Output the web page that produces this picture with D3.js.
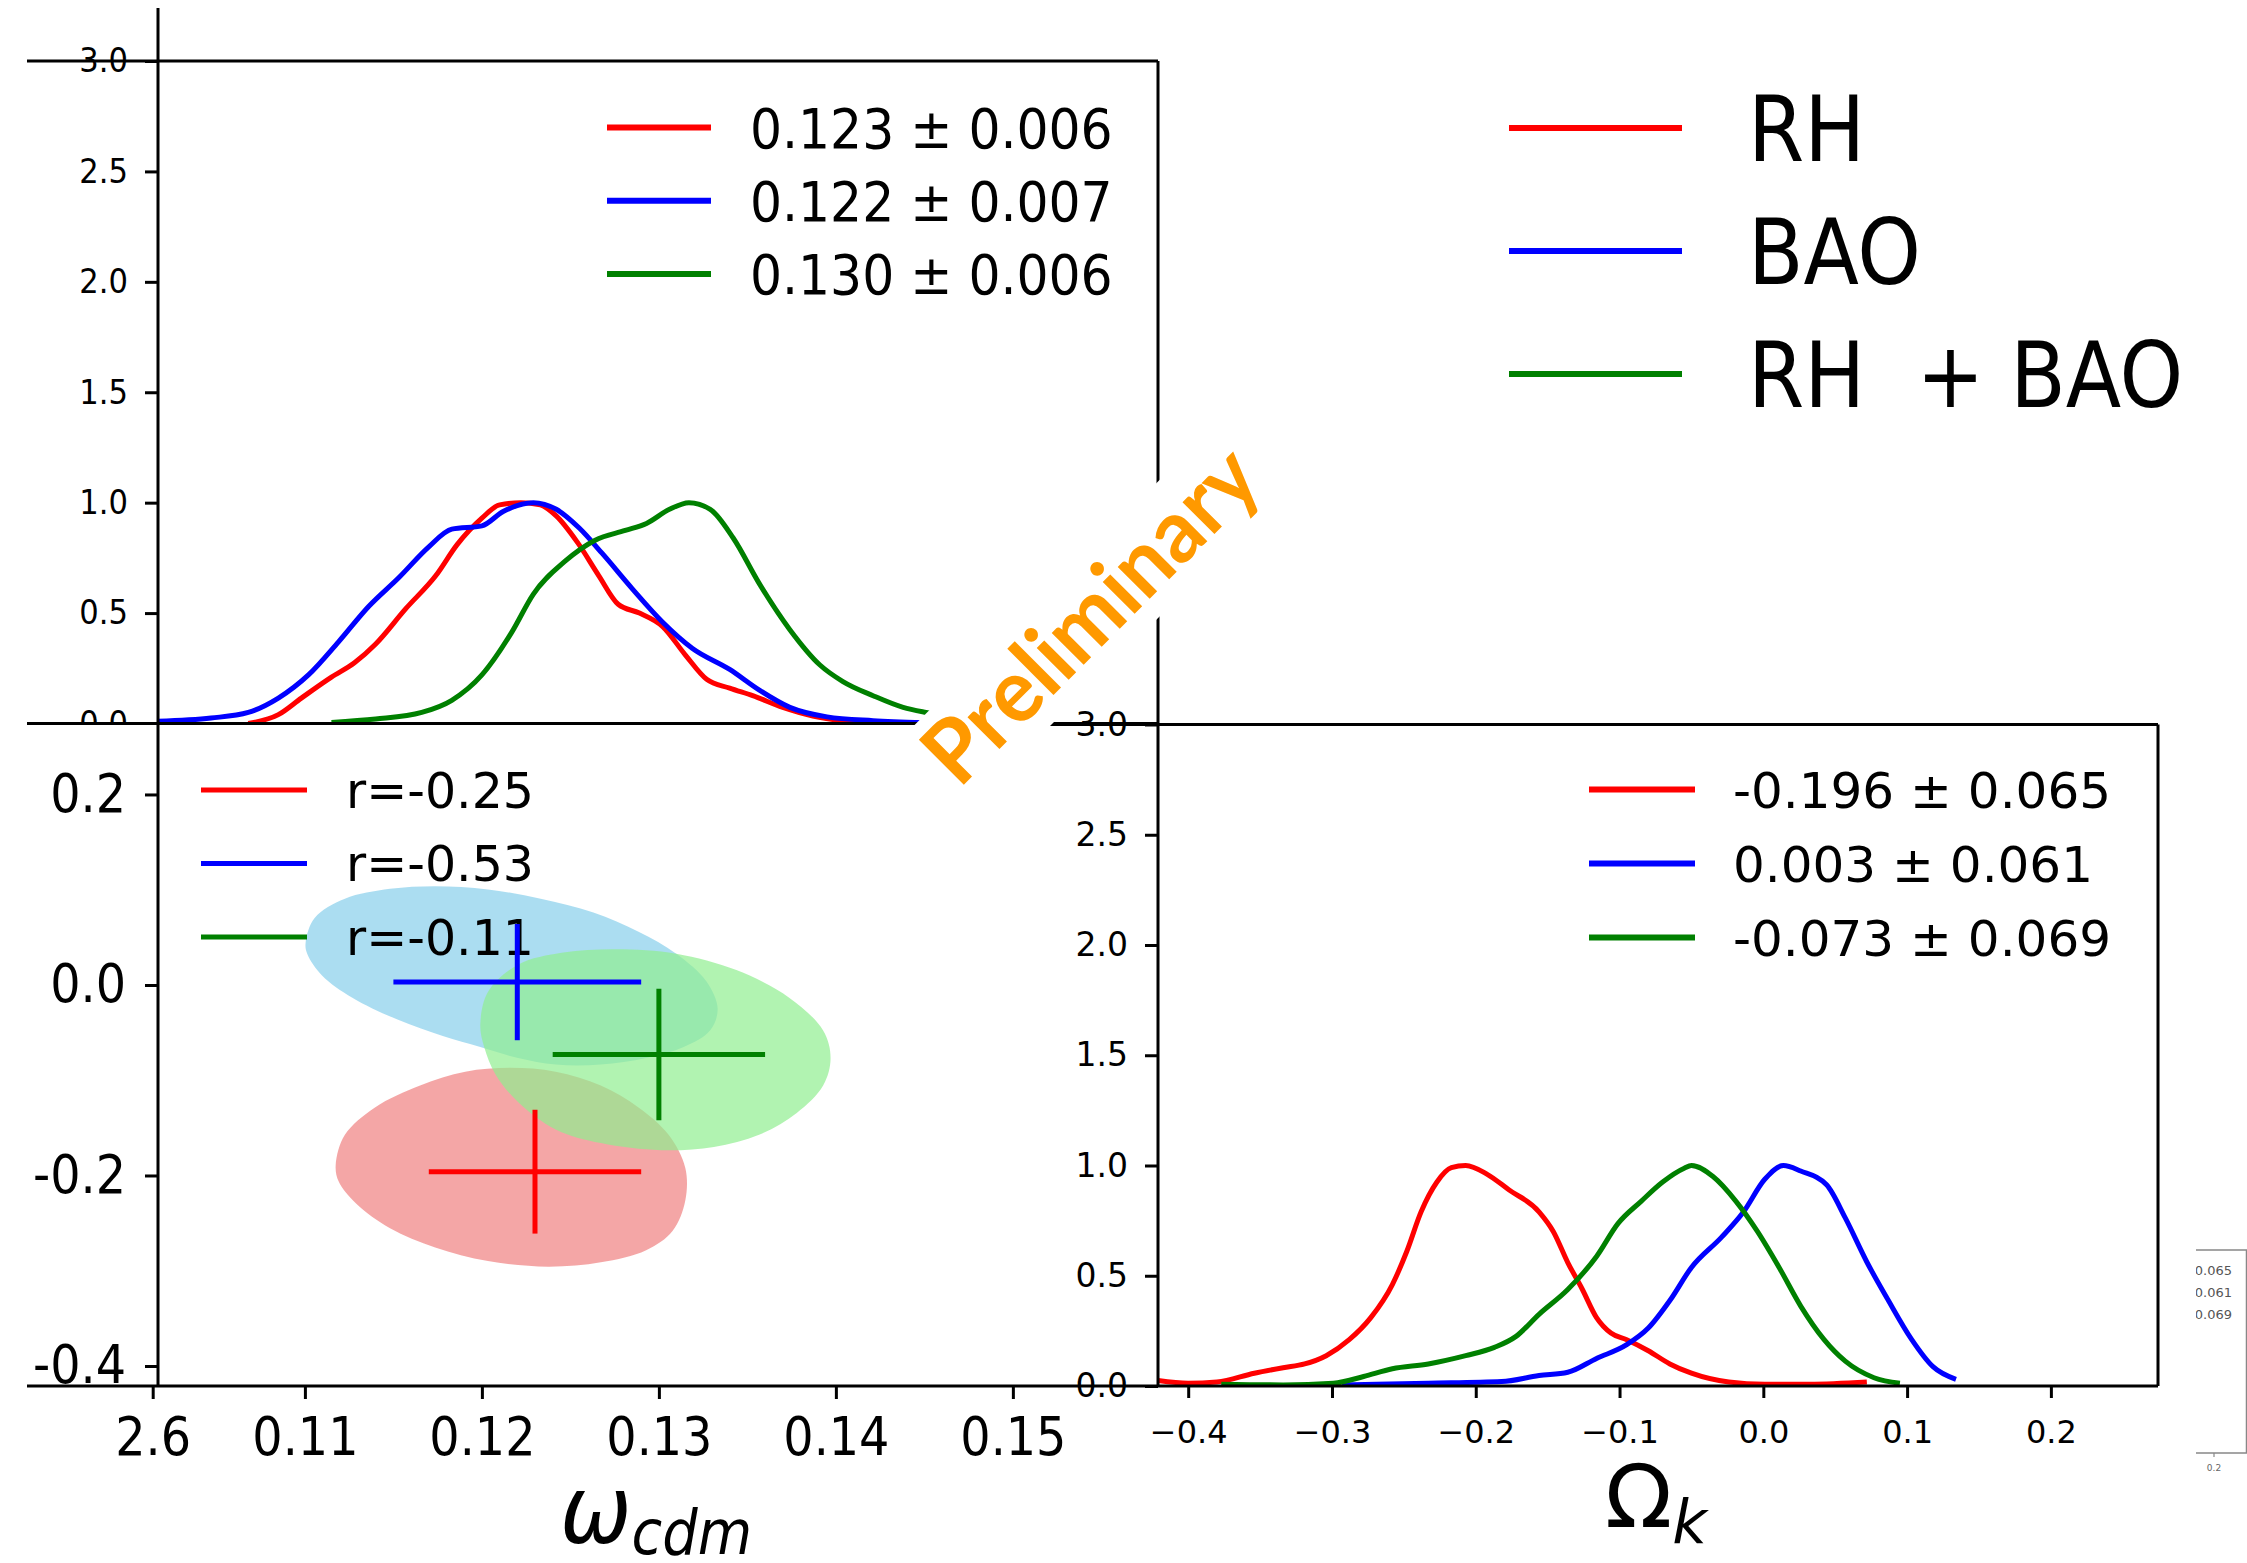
<!DOCTYPE html>
<html>
<head>
<meta charset="utf-8">
<script src="https://cdn.jsdelivr.net/npm/d3@7"></script>
<style>
  html, body { margin: 0; padding: 0; background: #fff; }
  svg { display: block; }
  text { white-space: pre; }
</style>
</head>
<body>
<svg id="fig" width="2247" height="1563"></svg>
<script>
// ---------------- data ----------------
const datasets   = ["RH", "BAO", "RH  + BAO"];
const lineColors = ["#ff0000", "#0000ff", "#008000"];
const fillColors = ["lightcoral", "skyblue", "lightgreen"];

// posterior summaries (mean, 1-sigma) and correlation coefficients
const wcdmMean  = [0.123, 0.122, 0.130];
const wcdmSigma = [0.006, 0.007, 0.006];
const okMean    = [-0.196, 0.003, -0.073];
const okSigma   = [0.065, 0.061, 0.069];
const corrCoef  = [-0.25, -0.53, -0.11];

// tick values / labels
const pdfTicks        = [3.0, 2.5, 2.0, 1.5, 1.0, 0.5, 0.0];
const wcdmTickValues  = [0.1014, 0.11, 0.12, 0.13, 0.14, 0.15];
const wcdmTickLabels  = ["2.6", "0.11", "0.12", "0.13", "0.14", "0.15"];
const okTicks2D       = [0.2, 0.0, -0.2, -0.4];
const okTicks1D       = [-0.4, -0.3, -0.2, -0.1, 0.0, 0.1, 0.2];

// marginal posterior of omega_cdm (peak normalised)
const wcdmPdfRH = [[0.1068,0.0],[0.1085,0.04],[0.1098,0.115],[0.1115,0.21],[0.1128,0.275],[0.1140,0.36],
  [0.1157,0.52],[0.1174,0.67],[0.1186,0.81],[0.1200,0.93],[0.1210,0.99],[0.1222,1.0],[0.1233,0.99],
  [0.1242,0.94],[0.1254,0.82],[0.1266,0.67],[0.1277,0.54],[0.1289,0.50],[0.1302,0.44],[0.1315,0.31],
  [0.1327,0.20],[0.1340,0.16],[0.1353,0.126],[0.1370,0.073],[0.1387,0.034],[0.1404,0.013],[0.1421,0.004],[0.1446,0.0]];
const wcdmPdfBAO = [[0.1017,0.01],[0.1047,0.025],[0.1068,0.05],[0.1085,0.115],[0.1102,0.22],[0.1119,0.37],
  [0.1136,0.53],[0.1153,0.66],[0.1170,0.80],[0.1183,0.88],[0.1200,0.895],[0.1212,0.96],[0.1229,1.0],
  [0.1242,0.97],[0.1255,0.885],[0.1268,0.77],[0.1285,0.61],[0.1302,0.46],[0.1319,0.34],[0.1340,0.245],
  [0.1357,0.15],[0.1374,0.073],[0.1395,0.03],[0.1421,0.013],[0.1449,0.004]];
const wcdmPdfJoint = [[0.1115,0.005],[0.1140,0.02],[0.1166,0.05],[0.1183,0.105],[0.1200,0.22],[0.1217,0.415],
  [0.1229,0.585],[0.1247,0.735],[0.1264,0.83],[0.1281,0.874],[0.1293,0.906],[0.1306,0.97],[0.1317,1.0],
  [0.1329,0.97],[0.1342,0.84],[0.1357,0.63],[0.1374,0.425],[0.1391,0.265],[0.1404,0.19],[0.1421,0.126],
  [0.1438,0.073],[0.1451,0.05],[0.1466,0.03],[0.1480,0.015]];

// marginal posterior of Omega_k (peak normalised)
const okPdfRH = [[-0.421,0.025],[-0.400,0.0125],[-0.380,0.018],[-0.354,0.058],[-0.334,0.083],[-0.319,0.10],
  [-0.304,0.1375],[-0.288,0.21],[-0.273,0.31],[-0.258,0.46],[-0.248,0.61],[-0.238,0.79],[-0.227,0.925],
  [-0.217,0.99],[-0.207,1.0],[-0.192,0.96],[-0.177,0.89],[-0.156,0.79],[-0.146,0.70],[-0.136,0.56],
  [-0.126,0.44],[-0.116,0.31],[-0.106,0.24],[-0.095,0.21],[-0.080,0.16],[-0.065,0.10],[-0.050,0.058],
  [-0.024,0.018],[0.001,0.008],[0.032,0.008],[0.072,0.018]];
const okPdfBAO = [[-0.293,0.005],[-0.233,0.0125],[-0.182,0.02],[-0.156,0.0475],[-0.136,0.0625],[-0.116,0.125],
  [-0.095,0.1875],[-0.080,0.2625],[-0.065,0.3875],[-0.050,0.5375],[-0.029,0.675],[-0.014,0.7875],
  [0.001,0.9375],[0.014,1.0],[0.026,0.975],[0.044,0.9125],[0.057,0.7625],[0.072,0.5625],[0.087,0.3875],
  [0.103,0.2125],[0.118,0.0875],[0.134,0.03]];
const okPdfJoint = [[-0.377,0.008],[-0.334,0.005],[-0.299,0.0125],[-0.278,0.043],[-0.258,0.078],[-0.233,0.10],
  [-0.207,0.1375],[-0.187,0.175],[-0.172,0.225],[-0.156,0.325],[-0.136,0.4375],[-0.116,0.5875],
  [-0.101,0.7375],[-0.085,0.8375],[-0.070,0.925],[-0.055,0.9875],[-0.050,1.0],[-0.035,0.95],[-0.019,0.8375],
  [-0.004,0.70],[0.011,0.5375],[0.026,0.3625],[0.042,0.2125],[0.057,0.1125],[0.077,0.0375],[0.095,0.0125]];

// 2D credible regions in (omega_cdm, Omega_k)
const contourRH = [[0.11174,-0.1890],[0.11226,-0.1573],[0.11396,-0.1285],[0.11651,-0.1055],[0.11906,-0.0911],
  [0.12162,-0.0870],[0.12417,-0.0911],[0.12672,-0.1055],[0.12885,-0.1285],[0.13055,-0.1573],[0.13149,-0.1919],
  [0.13149,-0.2265],[0.13077,-0.2582],[0.12928,-0.2784],[0.12672,-0.2911],[0.12374,-0.2957],[0.12034,-0.2899],
  [0.11736,-0.2755],[0.11481,-0.2553],[0.11289,-0.2294],[0.11191,-0.2063]];
const contourBAO = [[0.11004,0.0444],[0.11055,0.0703],[0.11226,0.0905],[0.11481,0.1009],[0.11736,0.1037],
  [0.12034,0.1003],[0.12332,0.0905],[0.12630,0.0761],[0.12885,0.0559],[0.13098,0.0329],[0.13268,0.0040],
  [0.13332,-0.0248],[0.13289,-0.0478],[0.13140,-0.0651],[0.12928,-0.0767],[0.12672,-0.0836],[0.12417,-0.0836],
  [0.12204,-0.0767],[0.11991,-0.0651],[0.11779,-0.0536],[0.11523,-0.0363],[0.11268,-0.0133],[0.11098,0.0098],
  [0.11013,0.0329]];
const contourJoint = [[0.11991,-0.0421],[0.12034,-0.0075],[0.12204,0.0213],[0.12460,0.0340],[0.12757,0.0375],
  [0.13098,0.0329],[0.13438,0.0156],[0.13736,-0.0133],[0.13928,-0.0478],[0.13970,-0.0767],[0.13928,-0.1055],
  [0.13779,-0.1343],[0.13566,-0.1573],[0.13311,-0.1700],[0.13013,-0.1735],[0.12672,-0.1660],[0.12417,-0.1516],
  [0.12204,-0.1228],[0.12077,-0.0939],[0.12013,-0.0651]];

const wcdmPdfs = [wcdmPdfRH, wcdmPdfBAO, wcdmPdfJoint];
const okPdfs   = [okPdfRH, okPdfBAO, okPdfJoint];
const contours = [contourRH, contourBAO, contourJoint];

// ---------------- layout ----------------
const svg = d3.select("#fig");
const SANS = "DejaVu Sans, Verdana, sans-serif";
const COND = "DejaVu Sans Condensed, DejaVu Sans, sans-serif";

const panelL = 158, panelM = 1158, panelR = 2158;
const topT = 61, midY = 723.5, botY = 1386;

const xW    = d3.scaleLinear().domain([0.1017, 0.1582]).range([panelL, panelM]);
const yTop  = d3.scaleLinear().domain([0, 3]).range([midY, topT]);
const yOk   = d3.scaleLinear().domain([-0.421, 0.2745]).range([botY, midY]);
const xOk   = d3.scaleLinear().domain([-0.421, 0.2745]).range([panelM, panelR]);
const yRgt  = d3.scaleLinear().domain([0, 3]).range([botY, 724.5]);

const fmt3 = v => v.toFixed(3);
const fmt2 = v => v.toFixed(2);
const fmt1 = v => v.toFixed(1);

svg.append("rect").attr("width", 2247).attr("height", 1563).attr("fill", "#fff");

const defs = svg.append("defs");
defs.append("clipPath").attr("id", "clipTL").append("rect")
  .attr("x", panelL).attr("y", topT).attr("width", panelM - panelL).attr("height", midY - topT);
defs.append("clipPath").attr("id", "clipBL").append("rect")
  .attr("x", panelL).attr("y", midY).attr("width", panelM - panelL).attr("height", botY - midY);
defs.append("clipPath").attr("id", "clipR").append("rect")
  .attr("x", panelM).attr("y", 724.5).attr("width", panelR - panelM).attr("height", botY - 724.5);
defs.append("clipPath").attr("id", "clipFrag").append("rect")
  .attr("x", 2196).attr("y", 1240).attr("width", 60).attr("height", 240);

function styleAxis(g, size, family) {
  g.select(".domain").remove();
  g.attr("font-size", size).attr("font-family", family);
  g.selectAll(".tick line").attr("stroke", "#000").attr("stroke-width", 3);
  g.selectAll(".tick text").attr("fill", "#000");
}

function legend(g, x0, x1, xt, y0, dy, labels, size, family, lw) {
  labels.forEach((lab, i) => {
    const y = y0 + i * dy;
    g.append("line").attr("x1", x0).attr("x2", x1).attr("y1", y).attr("y2", y)
      .attr("stroke", lineColors[i]).attr("stroke-width", lw);
    g.append("text").attr("x", xt).attr("y", y + 0.364 * size)
      .attr("font-size", size).attr("font-family", family).attr("fill", "#000").text(lab);
  });
}

// ---------------- top-left: omega_cdm marginal ----------------
const gTL = svg.append("g");
const lineTL = d3.line().x(d => xW(d[0])).y(d => yTop(d[1])).curve(d3.curveMonotoneX);
gTL.append("g").attr("clip-path", "url(#clipTL)").selectAll("path").data(wcdmPdfs).join("path")
  .attr("d", lineTL).attr("fill", "none")
  .attr("stroke", (d, i) => lineColors[i]).attr("stroke-width", 5);
gTL.append("g").attr("transform", `translate(${panelL},0)`)
  .call(d3.axisLeft(yTop).tickValues(pdfTicks).tickFormat(fmt1).tickSize(13).tickPadding(17))
  .call(g => styleAxis(g, 34, COND));
legend(gTL, 607, 711, 750, 127.5, 73.2,
  wcdmMean.map((m, i) => `${fmt3(m)} ± ${fmt3(wcdmSigma[i])}`), 56, COND, 6);

// ---------------- bottom-left: 2D omega_cdm vs Omega_k ----------------
const gBL = svg.append("g");
gBL.append("rect").attr("x", 0).attr("y", midY + 0.8).attr("width", panelM).attr("height", botY - midY)
  .attr("fill", "#fff");
const closed = d3.line().x(d => xW(d[0])).y(d => yOk(d[1])).curve(d3.curveCatmullRomClosed.alpha(0.5));
const fillOrder = [1, 0, 2];
gBL.append("g").attr("clip-path", "url(#clipBL)").selectAll("path").data(fillOrder).join("path")
  .attr("d", i => closed(contours[i])).attr("fill", i => fillColors[i]).attr("fill-opacity", 0.7);
legend(gBL, 201, 307, 346, 790, 73.5, corrCoef.map(r => `r=${fmt2(r)}`), 49, SANS, 5);
// mean +/- 1 sigma crosses
const crosses = gBL.append("g");
wcdmMean.forEach((m, i) => {
  crosses.append("line").attr("x1", xW(m - wcdmSigma[i])).attr("x2", xW(m + wcdmSigma[i]))
    .attr("y1", yOk(okMean[i])).attr("y2", yOk(okMean[i]))
    .attr("stroke", lineColors[i]).attr("stroke-width", 5);
  crosses.append("line").attr("x1", xW(m)).attr("x2", xW(m))
    .attr("y1", yOk(okMean[i] - okSigma[i])).attr("y2", yOk(okMean[i] + okSigma[i]))
    .attr("stroke", lineColors[i]).attr("stroke-width", 5);
});
gBL.append("g").attr("transform", `translate(${panelL},0)`)
  .call(d3.axisLeft(yOk).tickValues(okTicks2D).tickFormat(fmt1).tickSize(13).tickPadding(19))
  .call(g => styleAxis(g, 53, COND));
gBL.append("g").attr("transform", `translate(0,${botY})`)
  .call(d3.axisBottom(xW).tickValues(wcdmTickValues)
    .tickFormat((d, i) => wcdmTickLabels[i]).tickSize(13).tickPadding(18))
  .call(g => styleAxis(g, 53, COND));

// x label omega_cdm
const lblW = svg.append("text").attr("x", 560).attr("y", 1543).attr("fill", "#000")
  .attr("font-family", COND).attr("font-style", "italic");
lblW.append("tspan").attr("font-size", 95).text("ω");
lblW.append("tspan").attr("font-size", 62).attr("dy", 11).text("cdm");

// ---------------- right: Omega_k marginal ----------------
const gR = svg.append("g");
const lineR = d3.line().x(d => xOk(d[0])).y(d => yRgt(d[1])).curve(d3.curveMonotoneX);
gR.append("g").attr("clip-path", "url(#clipR)").selectAll("path").data(okPdfs).join("path")
  .attr("d", lineR).attr("fill", "none")
  .attr("stroke", (d, i) => lineColors[i]).attr("stroke-width", 5);
gR.append("g").attr("transform", `translate(${panelM},0)`)
  .call(d3.axisLeft(yRgt).tickValues(pdfTicks).tickFormat(fmt1).tickSize(13).tickPadding(17))
  .call(g => styleAxis(g, 33, SANS));
gR.append("g").attr("transform", `translate(0,${botY})`)
  .call(d3.axisBottom(xOk).tickValues(okTicks1D).tickFormat(d3.format(".1f")).tickSize(12).tickPadding(22))
  .call(g => styleAxis(g, 32, SANS));
legend(gR, 1589, 1695, 1733, 789.5, 74, okMean.map((m, i) => `${fmt3(m)} ± ${fmt3(okSigma[i])}`), 50, SANS, 6);

const lblO = svg.append("text").attr("x", 1605).attr("y", 1527).attr("fill", "#000").attr("font-family", SANS);
lblO.append("tspan").attr("font-size", 88).text("Ω");
lblO.append("tspan").attr("font-size", 60).attr("font-style", "italic").attr("dy", 16).text("k");

// ---------------- frame lines ----------------
const frame = svg.append("g").attr("stroke", "#000").attr("stroke-width", 3).attr("fill", "none");
[[27, topT, panelM, topT], [27, midY, panelM, midY], [1000, 724.5, panelR, 724.5], [27, botY, panelR, botY],
 [panelL, 8, panelL, botY], [panelM, topT, panelM, botY], [panelR, 724.5, panelR, botY]]
  .forEach(s => frame.append("line").attr("x1", s[0]).attr("y1", s[1]).attr("x2", s[2]).attr("y2", s[3]));

// ---------------- data-set legend ----------------
legend(svg.append("g"), 1509, 1682, 1748, 128, 123, datasets, 90, COND, 6);

// ---------------- small inset fragment at the right edge ----------------
const frag = svg.append("g").attr("clip-path", "url(#clipFrag)");
frag.append("path").attr("d", "M2193,1250H2246.5V1453H2193").attr("fill", "none")
  .attr("stroke", "#888").attr("stroke-width", 1.5);
frag.append("line").attr("x1", 2214).attr("x2", 2214).attr("y1", 1453).attr("y2", 1457)
  .attr("stroke", "#888").attr("stroke-width", 1.2);
frag.append("text").attr("x", 2214).attr("y", 1471).attr("text-anchor", "middle")
  .attr("font-size", 9).attr("font-family", SANS).attr("fill", "#666").text("0.2");
okMean.forEach((m, i) => {
  frag.append("text").attr("x", 2232).attr("y", 1275 + i * 22.2).attr("text-anchor", "end")
    .attr("font-size", 13).attr("font-family", SANS).attr("fill", "#555")
    .text(`${fmt3(m)} ± ${fmt3(okSigma[i])}`);
});

// ---------------- watermark ----------------
const wm = svg.append("g").attr("transform", "translate(1112,636.5) rotate(-45)");
wm.append("rect").attr("x", -228).attr("y", -77).attr("width", 456).attr("height", 96.5).attr("fill", "#fff");
wm.append("text").attr("x", 0).attr("y", 0).attr("text-anchor", "middle")
  .attr("font-family", "Lato, Liberation Sans, sans-serif").attr("font-weight", "bold")
  .attr("font-size", 88).attr("fill", "#ff9900")
  .attr("textLength", 433).attr("lengthAdjust", "spacingAndGlyphs").text("Preliminary");
</script>
</body>
</html>
